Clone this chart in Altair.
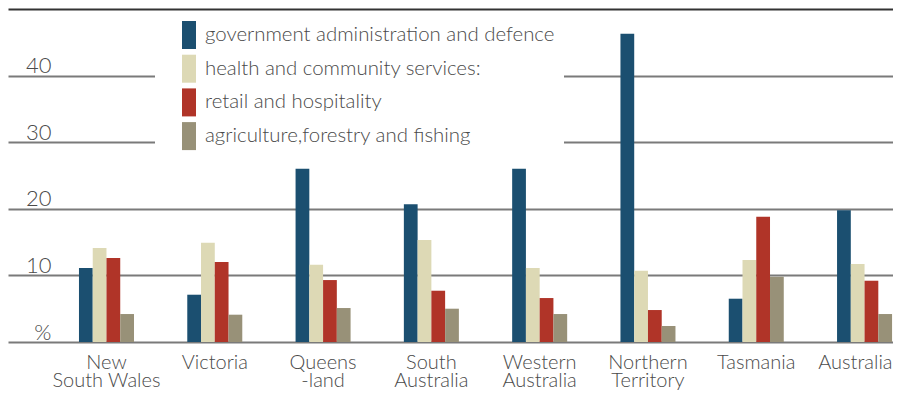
import altair as alt
import pandas as pd

regions = ["New South Wales", "Victoria", "Queensland", "South Australia",
           "Western Australia", "Northern Territory", "Tasmania", "Australia"]
tick_labels = [["New", "South Wales"], ["Victoria"], ["Queens", "-land"], ["South", "Australia"],
               ["Western", "Australia"], ["Northern", "Territory"], ["Tasmania"], ["Australia"]]
series = ["government administration and defence", "health and community services:",
          "retail and hospitality", "agriculture,forestry and fishing"]
colors = ["#1b4f70", "#ddd9b5", "#b03428", "#989178"]

government = [11.1, 7.1, 26.0, 20.7, 26.0, 46.3, 6.5, 19.8]
health = [14.1, 14.9, 11.6, 15.3, 11.1, 10.7, 12.3, 11.7]
retail = [12.6, 12.0, 9.3, 7.7, 6.6, 4.8, 18.8, 9.2]
agriculture = [4.2, 4.1, 5.1, 5.0, 4.2, 2.4, 9.8, 4.2]

rows = []
for s, vals in zip(series, [government, health, retail, agriculture]):
    for r, v in zip(regions, vals):
        rows.append({"region": r, "series": s, "value": v})
df = pd.DataFrame(rows)

label_expr = ""
for r, lab in zip(regions, tick_labels):
    parts = ",".join("'" + p + "'" for p in lab)
    label_expr += f"datum.value == '{r}' ? [{parts}] : "
label_expr += "datum.label"

last_test = f"datum.value == '{regions[-1]}'"

FONT = "Lato"
TXT = "#4a4a4a"

chart = alt.Chart(df).mark_bar().encode(
    x=alt.X("region:N", sort=regions, title=None,
            scale=alt.Scale(paddingInner=0.492, paddingOuter=0.332, align=0.987, round=False),
            axis=alt.Axis(labelAngle=0, ticks=False, tickSize=0, domain=False, grid=False,
                          labelPadding=10, labelBaseline="top", labelFontSize=20,
                          labelLineHeight=18, labelFont=FONT, labelFontWeight=300,
                          labelColor=TXT, labelExpr=label_expr,
                          labelAlign={"condition": {"test": last_test, "value": "right"},
                                      "value": "center"},
                          labelOffset={"condition": {"test": last_test, "value": 28},
                                       "value": 0})),
    xOffset=alt.XOffset("series:N", sort=series,
                        scale=alt.Scale(paddingInner=0, paddingOuter=0, round=False)),
    y=alt.Y("value:Q", title=None,
            scale=alt.Scale(domain=[0, 50], nice=False, zero=True),
            axis=alt.Axis(values=[0, 10, 20, 30, 40, 50], ticks=False, tickSize=0, domain=False,
                          grid=True,
                          gridColor={"condition": {"test": "datum.value == 50", "value": "#333333"},
                                     "value": "#7a7a7a"},
                          gridWidth=2,
                          labelAlign="right", labelPadding=-43, labelBaseline="alphabetic",
                          labelOffset=-3, labelFontSize=22, labelFont=FONT, labelFontWeight=300,
                          labelColor=TXT,
                          labelExpr="datum.value == 0 ? '%' : datum.value == 50 ? '' : datum.label")),
    color=alt.Color("series:N", sort=series,
                    scale=alt.Scale(domain=series, range=colors),
                    legend=alt.Legend(title=None, orient="none", legendX=147, legendY=4,
                                      padding=8, fillColor="white", strokeColor="white",
                                      symbolType="M-0.5,-1H0.5V1H-0.5Z", symbolSize=784,
                                      symbolStrokeWidth=0, symbolOffset=12, labelOffset=2,
                                      rowPadding=5.7, labelFontSize=20.4, labelFont=FONT,
                                      labelFontWeight=300, labelColor=TXT, labelLimit=500)),
).properties(
    width=885, height=333,
    autosize=alt.AutoSizeParams(type="none"),
    padding={"left": 0, "top": 1, "right": 0, "bottom": 50},
).configure_view(stroke=None)

chart.save("out.html", embed_options={"renderer": "svg", "actions": False})
